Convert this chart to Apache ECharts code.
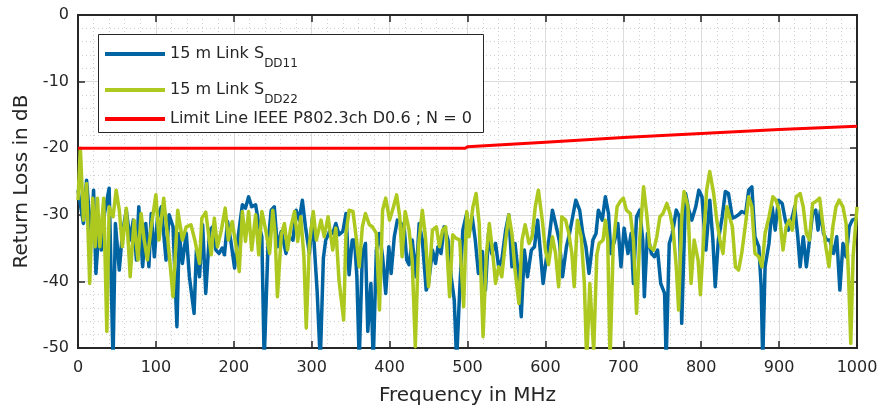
<!DOCTYPE html>
<html><head><meta charset="utf-8">
<script src="https://cdn.jsdelivr.net/npm/echarts@6/dist/echarts.min.js"></script>
<style>html,body{margin:0;padding:0;background:#fff}#c{width:882px;height:411px}</style>
</head><body><div id="c"></div>
<script>
var xTicks = [0,100,200,300,400,500,600,700,800,900,1000];
var yTicks = [0,-10,-20,-30,-40,-50];
var seriesNames = ['15 m Link S_DD11','15 m Link S_DD22','Limit Line IEEE P802.3ch D0.6 ; N = 0'];

var blueFreq = [0,7,11,17,20,23,27,30,34,40,45,48,53,57,62,67,71,75,78,83,87,91,94,98,102,107,113,117,122,127,130,134,139,143,149,152,156,160,164,169,173,177,181,185,188,192,196,201,205,211,215,219,223,228,232,236,239,244,248,252,256,261,267,271,276,280,284,288,292,297,301,307,311,315,318,323,327,331,335,340,344,348,352,355,358,361,365,369,372,376,379,383,387,391,395,399,402,406,410,415,419,422,425,429,434,438,442,447,450,455,459,462,466,470,475,479,483,486,490,494,499,502,506,510,514,519,523,527,531,536,540,544,549,553,557,561,566,569,573,577,582,586,590,593,597,601,605,609,614,618,622,627,631,635,639,644,648,652,656,661,665,668,673,677,681,684,689,693,697,701,706,710,713,717,721,725,727,731,736,740,744,748,753,755,759,763,768,772,775,780,784,788,793,797,801,806,811,815,818,822,827,831,835,840,844,848,852,857,861,865,869,874,877,879,882,887,891,895,899,904,908,912,917,920,924,927,931,935,939,943,947,950,953,957,961,965,970,974,978,982,986,990,994,1000];
var blueLoss = [-26.3,-31.3,-24.8,-33.8,-26.3,-38.8,-31.8,-35.3,-29.8,-26,-52,-31.3,-38.3,-32.8,-29.3,-33.8,-30.8,-36.8,-28.8,-37.8,-31.3,-37.8,-29.8,-36.3,-30.5,-28.8,-36.8,-30,-31.8,-46.8,-32.8,-37.3,-32.8,-39.3,-44.8,-35.3,-39.3,-31.5,-41.8,-32.3,-31.8,-35.3,-35.8,-35,-36,-31,-33.8,-38,-33.8,-28.5,-29,-27.3,-28.8,-28.5,-31.3,-33.3,-52,-34.3,-29.3,-28.8,-34.8,-32.5,-35.8,-33.3,-33.8,-29.3,-30.8,-27.8,-31.8,-35.8,-30.3,-41.5,-52,-36.5,-33.8,-32.5,-32.8,-31.3,-33,-32.5,-29.8,-39,-33.8,-33.8,-39.3,-52,-35.8,-34.3,-47.5,-40.3,-52,-35.3,-32.8,-36.3,-41.8,-34.8,-38.8,-33.3,-30.8,-31.3,-32.3,-36.8,-37.5,-33.8,-39.3,-31.3,-33.8,-41.3,-40.3,-35.3,-37.3,-34.8,-35.8,-31.8,-33.8,-39.3,-42.8,-52,-41.3,-32.3,-29.8,-32.8,-30.3,-33.8,-38.8,-35.5,-41.3,-32.8,-35.8,-34.3,-37.8,-36.8,-32.3,-30,-37.8,-34.3,-39.8,-45.3,-35.3,-39.3,-35.3,-34.8,-30.8,-34.8,-40.3,-36.8,-33.3,-29.3,-31.8,-34,-39.3,-34.8,-32.8,-30.3,-27.8,-29.3,-32.8,-34.8,-38.8,-33.8,-32.8,-29.3,-30.8,-27.3,-29.8,-35.8,-33.8,-31.3,-37.8,-32,-35.8,-32.8,-40.3,-30.3,-29.3,-33.8,-42.3,-32.8,-35.8,-36.3,-35.3,-40.3,-41.8,-52,-34.3,-32.8,-29.3,-30.3,-46.3,-26.8,-29.3,-30.8,-28.8,-26.3,-27.3,-35.3,-27.8,-33.8,-40.8,-33.8,-30.3,-26.5,-26.8,-30.5,-30.3,-30,-29.5,-29.8,-26.3,-25.8,-33.3,-34.8,-40.8,-52,-37.8,-34.3,-28.8,-32.3,-27.8,-28.3,-30.8,-32.3,-30.3,-28.8,-33.3,-37.8,-33.3,-37.8,-33.8,-29.8,-29.3,-32.3,-29.3,-32.8,-33.8,-33.8,-35.8,-33.3,-41.3,-34.3,-36.3,-31.8,-30.8,-30.5];

var greenFreq = [0,3,7,11,15,19,22,25,28,33,37,40,45,49,53,57,62,67,72,77,81,85,89,94,100,104,110,115,122,128,134,139,145,150,156,159,164,171,175,179,184,189,193,198,203,207,211,215,219,223,228,232,236,241,246,250,253,256,261,265,269,273,278,282,286,290,293,297,302,306,312,316,321,327,331,335,341,344,348,353,357,361,365,369,374,378,383,387,391,395,400,405,409,413,416,420,425,429,433,437,442,446,450,455,460,464,468,472,477,481,485,490,495,499,502,507,511,515,520,524,528,532,536,540,544,549,553,557,561,566,570,574,579,583,587,591,596,600,604,609,613,617,621,626,630,634,637,641,646,650,653,657,662,666,669,674,677,680,683,687,692,696,700,704,709,713,717,721,726,730,734,739,743,747,751,756,760,764,768,771,775,778,783,787,791,796,799,803,807,811,816,820,824,828,833,835,840,844,848,852,857,861,865,869,874,878,882,887,892,896,900,905,909,913,917,922,927,931,935,939,943,947,952,956,960,964,969,973,977,982,986,989,992,995,1000];
var greenLoss = [-27.8,-20,-30.8,-25.3,-40.3,-27.5,-34.8,-27.5,-34.8,-27.5,-47.5,-28.8,-30.3,-26.3,-29.3,-34.8,-29,-39.3,-30.8,-36.8,-29.8,-33.8,-36.8,-31.8,-27,-33.8,-27.5,-33.3,-42.3,-29.3,-33.8,-31.8,-31.5,-33.8,-37.3,-30.5,-29.6,-36,-30.5,-34.8,-32.3,-29,-33.8,-31,-34.8,-38.5,-29.5,-34,-29.5,-35.3,-30,-36,-29.5,-32.3,-35.8,-29.3,-32.8,-42.3,-33,-31.3,-35.3,-32,-29.5,-34,-30.3,-36.3,-47,-34.5,-29.5,-33.8,-30.8,-33.3,-30.3,-35.3,-32,-39.8,-45.8,-32.8,-29.3,-29.5,-33.3,-37.8,-31.8,-29.8,-31.5,-31.8,-32.8,-44.3,-29.3,-27.5,-30.8,-28.8,-27,-30.3,-36.3,-29.5,-32.3,-36.8,-49.8,-34.8,-29.3,-33.3,-40.8,-32.3,-31.8,-34.8,-32.3,-31.8,-42.3,-33,-33.5,-33.8,-43.8,-29.5,-33.3,-28.8,-26.8,-31.3,-48.3,-36.3,-31.3,-35.3,-40.3,-37.8,-39.3,-33.8,-30,-32.8,-38.3,-43.3,-33.8,-31.5,-34.3,-33.3,-28.8,-26.3,-30.8,-35.3,-37.5,-33.3,-35.8,-40.8,-30.3,-30.8,-32.8,-35.8,-40.8,-30.8,-33.3,-40.3,-52,-40.3,-50.5,-36,-34.3,-33.8,-30.8,-33.8,-52,-34.8,-28.8,-28,-27.5,-29.3,-29.8,-33.8,-44.8,-33.8,-25.8,-29.8,-34.8,-35.3,-33.3,-30.3,-29.8,-28.3,-29.8,-32.3,-37.8,-44.3,-30.3,-26.5,-28.8,-40.3,-33.8,-36.8,-42,-33.8,-26.3,-23.5,-26.8,-30.8,-33.8,-35.8,-28.8,-28.5,-31.8,-37.8,-38.3,-35.8,-31.3,-27.3,-28.8,-35.8,-36.3,-37.8,-32.8,-30.3,-27.3,-27.8,-29.3,-35.3,-31.8,-30.8,-32.3,-27.3,-26.8,-28.8,-32.8,-33.8,-28.3,-28,-27.5,-31.3,-34.8,-37.8,-31.8,-28.8,-27.8,-28.8,-31.3,-38.8,-49.3,-36.3,-28.8];

var limitFreq = [0,497,500,600,700,800,900,1000];
var limitLoss = [-20,-20,-19.8,-19.1,-18.4,-17.8,-17.2,-16.7];

function zip(a,b){var r=[];for(var i=0;i<a.length;i++)r.push([a[i],b[i]]);return r;}

var chart = echarts.init(document.getElementById('c'), null, {renderer:'canvas'});
var FONT = 'DejaVu Sans, Verdana, sans-serif';
var TXT = '#262626';
var blue = '#0064a2', green = '#adc81e', red = '#ff0000';
var gridLineMajor = {show:true, lineStyle:{color:'#dcdcdc', width:1, type:'solid'}};
var gridLineMinor = {show:true, lineStyle:{color:'#cfcfcf', width:1, type:[1,3]}};
var frameLine = {show:true, onZero:false, lineStyle:{color:TXT, width:2}};
var frameTick = {show:true, inside:true, length:7, lineStyle:{color:TXT, width:1.5}};

function subFmt(name){
  var p = name.split('_');
  if (p.length === 2) return '{a|' + p[0] + '}{b|' + p[1] + '}';
  return name;
}
var legendText = {fontFamily:FONT, fontSize:16, color:TXT,
  rich:{
    a:{fontFamily:FONT, fontSize:16, color:TXT},
    b:{fontFamily:FONT, fontSize:12, color:TXT, padding:[20,0,0,0]}
  }};
function oneLegend(name, top){
  return {orient:'vertical', left:105, top:top, data:[name], icon:'rect', itemWidth:60, itemHeight:4,
    padding:0, formatter:subFmt, textStyle:legendText, z:20, selectedMode:false};
}

chart.setOption({
  animation:false,
  backgroundColor:'#fff',
  grid:{left:78, right:25, top:15, bottom:63, show:true, borderColor:TXT, borderWidth:2, backgroundColor:'transparent'},
  graphic:[{type:'rect', left:98, top:34, z:15,
    shape:{width:385, height:98}, style:{fill:'#fff', stroke:TXT, lineWidth:1}}],
  legend:[oneLegend(seriesNames[0], 46), oneLegend(seriesNames[1], 82), oneLegend(seriesNames[2], 111)],
  xAxis:[{
    type:'value', min:0, max:1000, interval:100,
    name:'Frequency in MHz', nameLocation:'middle', nameGap:38,
    nameTextStyle:{fontFamily:FONT, fontSize:20, color:TXT},
    axisLine:frameLine, axisTick:frameTick,
    minorTick:{show:false, splitNumber:5},
    axisLabel:{fontFamily:FONT, fontSize:16, color:TXT, margin:12,
      formatter:function(v){return xTicks.indexOf(v)>=0 ? String(v) : '';}},
    splitLine:gridLineMajor, minorSplitLine:gridLineMinor
  },{
    type:'value', min:0, max:1000, interval:100, position:'top',
    axisLine:frameLine, axisTick:frameTick,
    axisLabel:{show:false}, splitLine:{show:false}
  }],
  yAxis:[{
    type:'value', min:-50, max:0, interval:10,
    name:'Return Loss in dB', nameLocation:'middle', nameGap:45, nameRotate:90,
    nameTextStyle:{fontFamily:FONT, fontSize:20, color:TXT},
    axisLine:frameLine, axisTick:frameTick,
    minorTick:{show:false, splitNumber:5},
    axisLabel:{fontFamily:FONT, fontSize:16, color:TXT, margin:9,
      formatter:function(v){return yTicks.indexOf(v)>=0 ? String(v) : '';}},
    splitLine:gridLineMajor, minorSplitLine:gridLineMinor
  },{
    type:'value', min:-50, max:0, interval:10, position:'right',
    axisLine:frameLine, axisTick:frameTick,
    axisLabel:{show:false}, splitLine:{show:false}
  }],
  series:[
    {name:seriesNames[0], type:'line', data:zip(blueFreq, blueLoss), showSymbol:false, symbol:'none', clip:true,
     itemStyle:{color:blue}, lineStyle:{color:blue, width:3.5, join:'round'}, z:2},
    {name:seriesNames[1], type:'line', data:zip(greenFreq, greenLoss), showSymbol:false, symbol:'none', clip:true,
     itemStyle:{color:green}, lineStyle:{color:green, width:3.5, join:'round'}, z:3},
    {name:seriesNames[2], type:'line', data:zip(limitFreq, limitLoss), showSymbol:false, symbol:'none', clip:true,
     itemStyle:{color:red}, lineStyle:{color:red, width:3}, z:4}
  ]
});
</script></body></html>
